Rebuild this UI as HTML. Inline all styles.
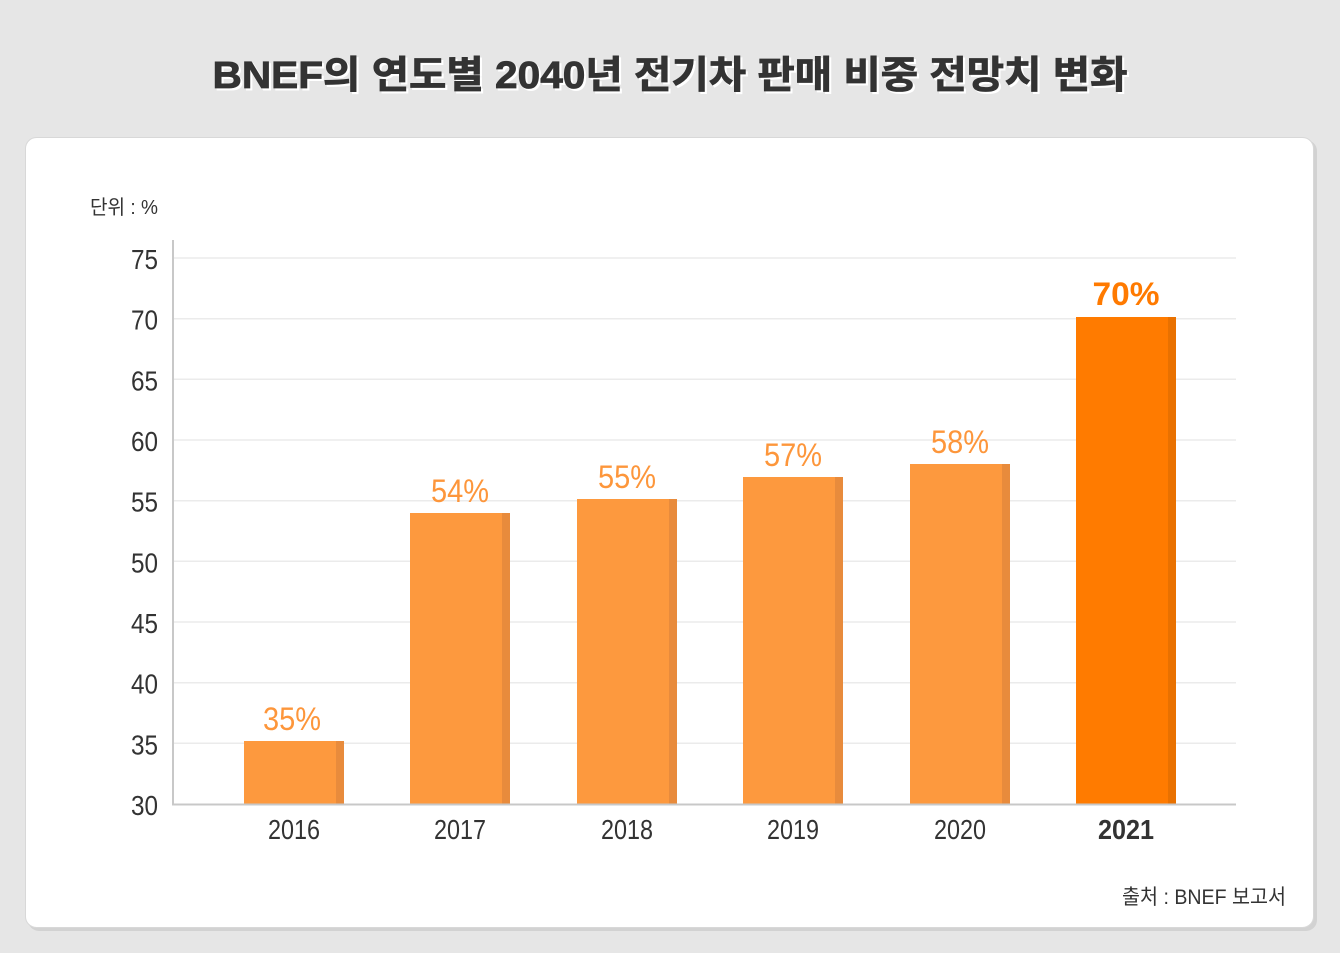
<!DOCTYPE html>
<html>
<head>
<meta charset="utf-8">
<style>
html,body{margin:0;padding:0;background:#e6e6e6;}
body{width:1340px;height:953px;overflow:hidden;}
svg{display:block;}
text{font-family:"Liberation Sans","Noto Sans CJK KR",sans-serif;}
</style>
</head>
<body>
<svg width="1340" height="953" viewBox="0 0 1340 953" xmlns="http://www.w3.org/2000/svg">
  <rect x="0" y="0" width="1340" height="953" fill="#e6e6e6"/>
  <!-- title -->
  <text x="672" y="90" text-anchor="middle" font-size="38" font-weight="bold" fill="#ffffff" stroke="#ffffff" stroke-width="1" textLength="915" lengthAdjust="spacingAndGlyphs">BNEF의 연도별 2040년 전기차 판매 비중 전망치 변화</text>
  <text x="670" y="88" text-anchor="middle" font-size="38" font-weight="bold" fill="#333333" stroke="#333333" stroke-width="0.8" textLength="915" lengthAdjust="spacingAndGlyphs">BNEF의 연도별 2040년 전기차 판매 비중 전망치 변화</text>

  <!-- card -->
  <rect x="28" y="140" width="1289" height="791" rx="11" fill="#d2d2d2"/>
  <rect x="25.5" y="137.5" width="1288" height="790" rx="11" fill="#ffffff" stroke="#d8d8d8" stroke-width="1"/>

  <!-- unit -->
  <text x="158" y="214" text-anchor="end" font-size="20" fill="#333" textLength="68" lengthAdjust="spacingAndGlyphs">단위 : %</text>

  <!-- gridlines -->
  <g stroke="#ebebeb" stroke-width="1.5">
    <line x1="174" y1="258" x2="1236" y2="258"/>
    <line x1="174" y1="318.7" x2="1236" y2="318.7"/>
    <line x1="174" y1="379.3" x2="1236" y2="379.3"/>
    <line x1="174" y1="440" x2="1236" y2="440"/>
    <line x1="174" y1="500.7" x2="1236" y2="500.7"/>
    <line x1="174" y1="561.3" x2="1236" y2="561.3"/>
    <line x1="174" y1="622" x2="1236" y2="622"/>
    <line x1="174" y1="682.7" x2="1236" y2="682.7"/>
    <line x1="174" y1="743.3" x2="1236" y2="743.3"/>
  </g>

  <!-- y tick labels -->
  <g font-size="28" fill="#333" text-anchor="end">
    <text x="158" y="269" textLength="27" lengthAdjust="spacingAndGlyphs">75</text>
    <text x="158" y="329.7" textLength="27" lengthAdjust="spacingAndGlyphs">70</text>
    <text x="158" y="390.3" textLength="27" lengthAdjust="spacingAndGlyphs">65</text>
    <text x="158" y="451" textLength="27" lengthAdjust="spacingAndGlyphs">60</text>
    <text x="158" y="511.7" textLength="27" lengthAdjust="spacingAndGlyphs">55</text>
    <text x="158" y="572.3" textLength="27" lengthAdjust="spacingAndGlyphs">50</text>
    <text x="158" y="633" textLength="27" lengthAdjust="spacingAndGlyphs">45</text>
    <text x="158" y="693.7" textLength="27" lengthAdjust="spacingAndGlyphs">40</text>
    <text x="158" y="754.3" textLength="27" lengthAdjust="spacingAndGlyphs">35</text>
    <text x="158" y="815" textLength="27" lengthAdjust="spacingAndGlyphs">30</text>
  </g>

  <!-- bars -->
  <g>
    <rect x="244" y="741" width="100" height="63" fill="#fd993e"/>
    <rect x="336" y="741" width="8" height="63" fill="#e88b3c"/>
    <rect x="410" y="513" width="100" height="291" fill="#fd993e"/>
    <rect x="502" y="513" width="8" height="291" fill="#e88b3c"/>
    <rect x="577" y="499" width="100" height="305" fill="#fd993e"/>
    <rect x="669" y="499" width="8" height="305" fill="#e88b3c"/>
    <rect x="743" y="477" width="100" height="327" fill="#fd993e"/>
    <rect x="835" y="477" width="8" height="327" fill="#e88b3c"/>
    <rect x="910" y="464" width="100" height="340" fill="#fd993e"/>
    <rect x="1002" y="464" width="8" height="340" fill="#e88b3c"/>
    <rect x="1076" y="317" width="100" height="487" fill="#ff7b00"/>
    <rect x="1168" y="317" width="8" height="487" fill="#e97100"/>
  </g>

  <!-- axes -->
  <line x1="173" y1="240" x2="173" y2="805" stroke="#c8c8c8" stroke-width="2"/>
  <line x1="172" y1="804.5" x2="1236" y2="804.5" stroke="#c8c8c8" stroke-width="2"/>

  <!-- value labels -->
  <g font-size="32" fill="#fd963b" text-anchor="middle">
    <text x="292" y="730" textLength="58" lengthAdjust="spacingAndGlyphs">35%</text>
    <text x="460" y="502" textLength="58" lengthAdjust="spacingAndGlyphs">54%</text>
    <text x="627" y="488" textLength="58" lengthAdjust="spacingAndGlyphs">55%</text>
    <text x="793" y="466" textLength="58" lengthAdjust="spacingAndGlyphs">57%</text>
    <text x="960" y="453" textLength="58" lengthAdjust="spacingAndGlyphs">58%</text>
    <text x="1126" y="305" font-weight="bold" fill="#ff7a00" textLength="67" lengthAdjust="spacingAndGlyphs">70%</text>
  </g>

  <!-- x labels -->
  <g font-size="28" fill="#333" text-anchor="middle">
    <text x="294" y="839" textLength="52" lengthAdjust="spacingAndGlyphs">2016</text>
    <text x="460" y="839" textLength="52" lengthAdjust="spacingAndGlyphs">2017</text>
    <text x="627" y="839" textLength="52" lengthAdjust="spacingAndGlyphs">2018</text>
    <text x="793" y="839" textLength="52" lengthAdjust="spacingAndGlyphs">2019</text>
    <text x="960" y="839" textLength="52" lengthAdjust="spacingAndGlyphs">2020</text>
    <text x="1126" y="839" font-weight="bold" textLength="56" lengthAdjust="spacingAndGlyphs">2021</text>
  </g>

  <!-- source -->
  <text x="1286" y="904" text-anchor="end" font-size="21" fill="#333" textLength="164" lengthAdjust="spacingAndGlyphs">출처 : BNEF 보고서</text>
</svg>
</body>
</html>
